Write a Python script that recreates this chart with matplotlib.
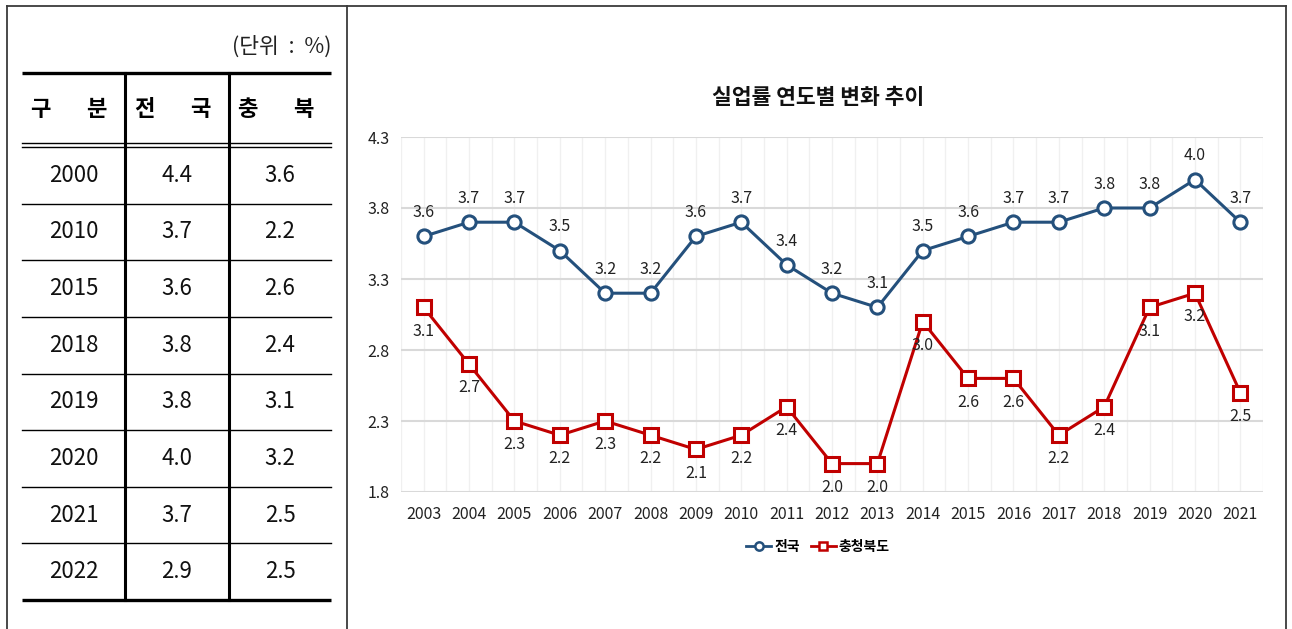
import matplotlib.pyplot as plt
import numpy as np
from matplotlib.lines import Line2D

plt.rcParams['font.family'] = ['Noto Sans CJK KR', 'DejaVu Sans']

# 표 데이터
table_years = ['2000', '2010', '2015', '2018', '2019', '2020', '2021', '2022']
table_nation = ['4.4', '3.7', '3.6', '3.8', '3.8', '4.0', '3.7', '2.9']
table_cb = ['3.6', '2.2', '2.6', '2.4', '3.1', '3.2', '2.5', '2.5']
header = [('구', '분'), ('전', '국'), ('충', '북')]

# 그래프 데이터
years = [str(y) for y in range(2003, 2022)]
nation = [3.6, 3.7, 3.7, 3.5, 3.2, 3.2, 3.6, 3.7, 3.4, 3.2, 3.1,
          3.5, 3.6, 3.7, 3.7, 3.8, 3.8, 4.0, 3.7]
chungbuk = [3.1, 2.7, 2.3, 2.2, 2.3, 2.2, 2.1, 2.2, 2.4, 2.0, 2.0,
            3.0, 2.6, 2.6, 2.2, 2.4, 3.1, 3.2, 2.5]

W, H = 1292, 629
fig = plt.figure(figsize=(W / 100, H / 100), dpi=100)

# 바탕 (픽셀 좌표)
bg = fig.add_axes([0, 0, 1, 1])
bg.set_xlim(0, W)
bg.set_ylim(H, 0)
bg.axis('off')

border = '#3a3a3a'
bg.plot([7, 1286], [6, 6], color=border, lw=1.3)
bg.plot([7, 7], [6, H], color=border, lw=1.3)
bg.plot([1286, 1286], [6, H], color=border, lw=1.3)
bg.plot([347, 347], [6, H], color=border, lw=1.3)

# 표
x0, x1, x2, x3 = 22, 125, 229, 331
bg.text(x3, 47, '(단위  :  %)', ha='right', va='center', fontsize=15.5, color='#222222')
bg.plot([x0, x3], [73, 73], color='black', lw=2.4, solid_capstyle='butt')
bg.plot([x0, x3], [143, 143], color='black', lw=1.0)
bg.plot([x0, x3], [147, 147], color='black', lw=1.0)
for xc in (x1, x2):
    bg.plot([xc, xc], [73, 600], color='black', lw=2.2)

col_centers = [(x0 + x1) / 2, (x1 + x2) / 2, (x2 + x3) / 2]
for cx, (a, b) in zip(col_centers, header):
    bg.text(cx - 33, 110, a, ha='center', va='center', fontsize=16, fontweight='bold')
    bg.text(cx + 23, 110, b, ha='center', va='center', fontsize=16, fontweight='bold')

row_h = (600 - 147) / len(table_years)
for i, row in enumerate(zip(table_years, table_nation, table_cb)):
    yc = 147 + row_h * (i + 0.5)
    for cx, val in zip(col_centers, row):
        bg.text(cx, yc, val, ha='center', va='center', fontsize=16, color='#111111')
    if i < len(table_years) - 1:
        yl = 147 + row_h * (i + 1)
        bg.plot([x0, x3], [yl, yl], color='black', lw=1.0)
bg.plot([x0, x3], [600, 600], color='black', lw=2.4, solid_capstyle='butt')

# 그래프
blue = '#24507C'
red = '#C00000'
num_font = ['Liberation Sans Narrow', 'Noto Sans CJK KR', 'DejaVu Sans']

ax = fig.add_axes([401 / W, (H - 492) / H, 862 / W, 355 / H])
x = np.arange(len(years))
ax.plot(x, nation, color=blue, lw=2.2, marker='o', ms=9.5, mfc='white',
        mec=blue, mew=2.2, zorder=4)
ax.plot(x, chungbuk, color=red, lw=2.2, marker='s', ms=9.5, mfc='white',
        mec=red, mew=2.2, zorder=4)

for xi, v in zip(x, nation):
    ax.annotate(f'{v:.1f}', (xi, v), xytext=(0, 11), textcoords='offset points',
                ha='center', va='bottom', fontsize=11.5, family=num_font, color='#222222')
for xi, v in zip(x, chungbuk):
    ax.annotate(f'{v:.1f}', (xi, v), xytext=(0, -11), textcoords='offset points',
                ha='center', va='top', fontsize=11.5, family=num_font, color='#222222', zorder=5)

ax.set_xlim(-0.5, len(years) - 0.5)
ax.set_ylim(1.8, 4.3)
ax.set_yticks([1.8, 2.3, 2.8, 3.3, 3.8, 4.3])
ax.set_yticklabels(['1.8', '2.3', '2.8', '3.3', '3.8', '4.3'], family=num_font, fontsize=11.5)
ax.set_xticks(x)
ax.set_xticklabels(years, family=num_font, fontsize=11.5)
ax.set_xticks(np.arange(-0.5, len(years), 1), minor=True)
ax.tick_params(axis='both', length=0, colors='#222222')
ax.tick_params(axis='x', pad=10, which='major')
ax.tick_params(axis='y', pad=8)
ax.tick_params(which='minor', length=0)
ax.grid(axis='y', color='#D9D9D9', lw=1.5)
ax.grid(axis='x', which='both', color='#F0F0F0', lw=1.0)
ax.set_axisbelow(True)
for s in ax.spines.values():
    s.set_visible(False)

fig.text(818 / W, 1 - 97 / H, '실업률 연도별 변화 추이', ha='center', va='center',
         fontsize=15.5, fontweight='bold', color='#111111')

handles = [
    Line2D([], [], color=blue, lw=2, marker='o', ms=6, mfc='white', mec=blue, mew=1.8),
    Line2D([], [], color=red, lw=2, marker='s', ms=6, mfc='white', mec=red, mew=1.8),
]
fig.legend(handles, ['전국', '충청북도'], loc='center', bbox_to_anchor=(818 / W, 1 - 547 / H),
           ncol=2, frameon=False, handlelength=1.8, handletextpad=0.2,
           columnspacing=0.8, prop={'weight': 'bold', 'size': 10})

fig.savefig('out.png', dpi=100)
